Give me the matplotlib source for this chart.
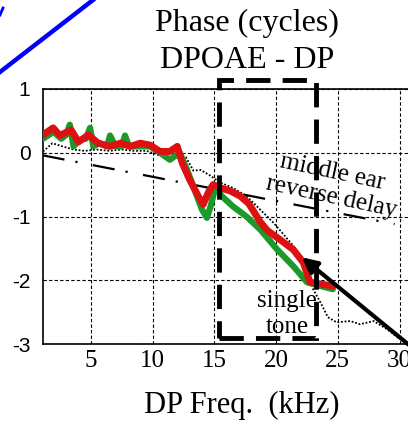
import matplotlib
matplotlib.use('Agg')
import matplotlib.pyplot as plt
from matplotlib.lines import Line2D
from matplotlib.patches import Rectangle

# ---------------- data ----------------
red_x = [1.13, 1.95, 2.5, 3.1, 3.4, 4.0, 4.8, 5.6, 6.56, 7.4, 8.2, 9.0, 9.8, 10.6,
         11.4, 12.0, 12.4, 13.0, 13.7, 14.1, 14.5, 14.9, 15.5, 16.3, 17.1, 17.8,
         18.7, 19.3, 20.3, 21.4, 22.2, 22.75, 23.6, 24.6]
red_y = [0.28, 0.39, 0.27, 0.33, 0.36, 0.17, 0.28, 0.15, 0.10, 0.15, 0.10, 0.15,
         0.12, 0.02, 0.02, 0.10, -0.16, -0.42, -0.68, -0.81, -0.63, -0.50, -0.55,
         -0.60, -0.68, -0.80, -1.08, -1.22, -1.36, -1.52, -1.72, -2.03, -2.06, -2.09]

green_x = [1.13, 2.0, 2.6, 3.0, 3.3, 3.6, 4.1, 4.6, 4.94, 5.2, 5.7, 6.3, 6.56,
           7.0, 7.5, 7.77, 8.1, 9.0, 9.8, 10.6, 11.4, 12.2, 12.8, 13.4, 14.0,
           14.4, 14.7, 15.1, 15.6, 16.5, 17.6, 18.7, 20.1, 21.4, 22.5, 23.6, 24.6]
green_y = [0.22, 0.33, 0.22, 0.28, 0.44, 0.10, 0.20, 0.22, 0.39, 0.10, 0.15, 0.10,
           0.27, 0.10, 0.10, 0.27, 0.10, 0.10, 0.10, 0.0, -0.11, 0.0, -0.27, -0.58,
           -0.89, -1.02, -0.84, -0.53, -0.68, -0.84, -1.0, -1.2, -1.52, -1.78,
           -2.03, -2.09, -2.14]

single_x = [1.13, 1.9, 2.7, 3.6, 4.5, 5.5, 6.5, 7.5, 8.5, 9.5, 10.85, 12.0, 12.7,
            13.3, 13.9, 14.6, 15.5, 16.5, 17.6, 18.5, 19.8, 21.4, 22.5, 23.0,
            23.6, 24.2, 24.9, 26.0, 26.8, 27.9, 29.0, 30.0]
single_y = [0.02, 0.15, 0.10, 0.05, 0.03, 0.05, 0.03, 0.05, 0.03, 0.03, -0.06,
            -0.06, -0.07, -0.28, -0.27, -0.35, -0.47, -0.55, -0.68, -0.85, -1.10,
            -1.46, -1.83, -2.14, -2.35, -2.58, -2.66, -2.64, -2.69, -2.64, -2.77,
            -2.92]

me_x = [1.1, 29.6]
me_y = [-0.04, -1.12]

xticks = [5, 10, 15, 20, 25, 30]
yticks = [-3, -2, -1, 0, 1]

# ---------------- figure ----------------
W, H = 408, 422
fig = plt.figure(figsize=(W / 100, H / 100), dpi=100)
fig.patch.set_facecolor('white')
ax = fig.add_axes([43 / W, (H - 344) / H, (415 - 43) / W, (344 - 89) / H])
ax.set_xlim(1.13, 31.25)
ax.set_ylim(-3, 1)

ax.set_xticks(xticks)
ax.set_yticks(yticks)
ax.set_xticklabels([str(t) for t in xticks], family='Liberation Serif', fontsize=18)
ax.set_yticklabels([str(t) for t in yticks], family='Liberation Sans', fontsize=15)
ax.tick_params(axis='x', length=0, pad=4)
ax.tick_params(axis='y', length=0, pad=9)
ax.grid(True, color='black', linestyle=(0, (3, 2)), linewidth=0.8)
for s in ax.spines.values():
    s.set_linewidth(1.2)
    s.set_color('black')

ax.plot(me_x, me_y, color='black', lw=1.6, linestyle=(0, (10, 5, 1, 7)), zorder=3)
ax.plot(single_x, single_y, color='black', lw=1.3, linestyle=(0, (1, 1)), zorder=3)
ax.plot(green_x, green_y, color='#1a9a2a', lw=4.5, solid_joinstyle='round',
        solid_capstyle='round', zorder=4)
ax.plot(red_x, red_y, color='#dd1111', lw=5, solid_joinstyle='round',
        solid_capstyle='round', zorder=5)

# dashed box
rect = Rectangle((15.4, -2.9), 23.2 - 15.4, 1.14 + 2.9, fill=False,
                 edgecolor='black', lw=3.5, linestyle=(0, (5, 2.5)),
                 clip_on=False, zorder=6)
ax.add_patch(rect)

# arrow
ax.annotate('', xy=(22.1, -1.64), xytext=(31.3, -3.1),
            arrowprops=dict(arrowstyle='-|>,head_length=0.9,head_width=0.45',
                            color='black', lw=3, shrinkA=0, shrinkB=0),
            annotation_clip=False, zorder=7)

# texts
ax.text(24.6, -0.30, 'middle ear', rotation=-12, ha='center', va='center',
        family='Liberation Serif', fontsize=18, zorder=8)
ax.text(24.45, -0.69, 'reverse delay', rotation=-12, ha='center', va='center',
        family='Liberation Serif', fontsize=18, zorder=8)
ax.text(20.85, -2.33, 'single', ha='center', va='center',
        family='Liberation Serif', fontsize=18, zorder=8)
ax.text(20.9, -2.73, 'tone', ha='center', va='center',
        family='Liberation Serif', fontsize=18, zorder=8)

fig.text(247 / W, 1 - 23 / H, 'Phase (cycles)', ha='center', va='center',
         family='Liberation Serif', fontsize=23)
fig.text(247 / W, 1 - 61 / H, 'DPOAE - DP', ha='center', va='center',
         family='Liberation Serif', fontsize=23)
fig.text(242 / W, 1 - 405 / H, 'DP Freq.  (kHz)', ha='center', va='center',
         family='Liberation Serif', fontsize=22)

# blue line top-left
fig.add_artist(Line2D([0 / W, 93 / W], [1 - 72 / H, 1 - 0 / H], color='#0000ff', lw=3.2))
fig.add_artist(Line2D([0 / W, 3 / W], [1 - 15 / H, 1 - 8 / H], color='#0000ff', lw=2))

fig.savefig('out.png', dpi=100, facecolor='white')
